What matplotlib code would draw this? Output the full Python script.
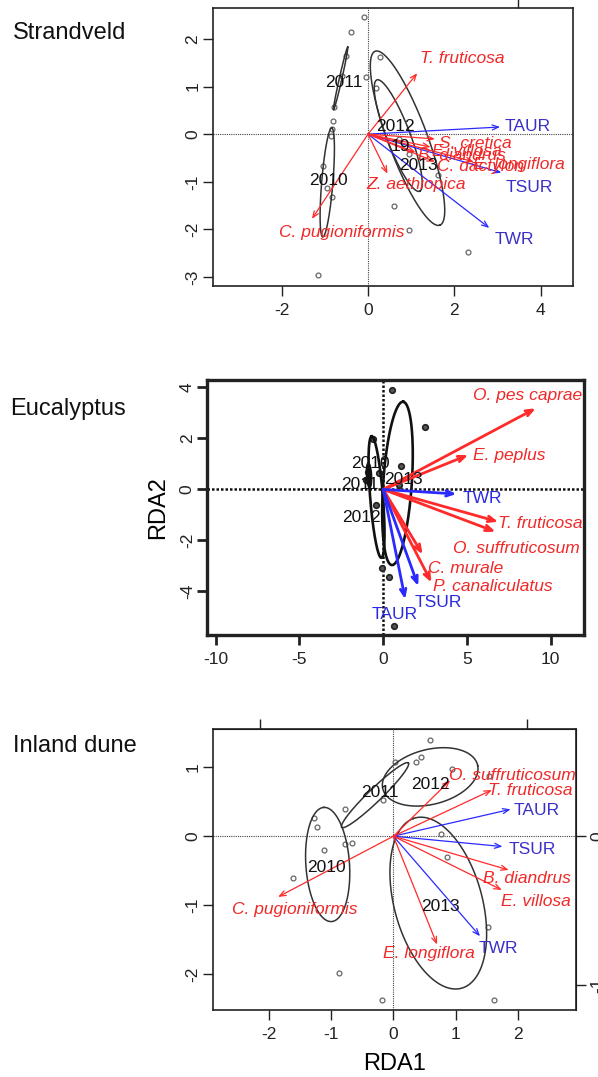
import numpy as np
import matplotlib
matplotlib.use("Agg")
import matplotlib.pyplot as plt

plt.rcParams['font.family'] = ['Liberation Sans', 'DejaVu Sans']

W, H = 598, 1077
RED = '#ff2a2a'
RED_T = '#f02828'
BLUE = '#2a2aff'
BLUE_T = '#3a30c8'

# ---------------- Strandveld ----------------
sv_site_x = [-0.09, -0.39, -0.52, -0.61, -0.79, -0.82, -0.84, -0.86, -1.05, -0.96, -0.83, -1.17,
             -0.05, 0.18, 0.28, 0.72, 0.94, 1.63, 0.61, 0.95, 2.32]
sv_site_y = [2.46, 2.14, 1.65, 1.23, 0.57, 0.28, 0.10, -0.03, -0.66, -1.14, -1.33, -2.96,
             1.20, 0.97, 1.63, -0.11, -0.42, -0.85, -1.50, -2.02, -2.47]
sv_species = ['T. fruticosa', 'C. pugioniformis', 'Z. aethiopica', 'S. cretica', 'E. villosa',
              'B. diandrus', 'C. dactylon', 'E. longiflora']
sv_sp_x = [1.14, -1.30, 0.45, 1.55, 1.45, 1.10, 1.55, 2.45]
sv_sp_y = [1.28, -1.78, -0.83, -0.10, -0.27, -0.38, -0.58, -0.58]
sv_sp_lx = [1.20, -0.61, 1.11, 1.65, 1.48, 1.16, 1.59, 2.44]
sv_sp_ly = [1.58, -2.06, -1.06, -0.20, -0.36, -0.45, -0.68, -0.63]
sv_sp_ha = ['left', 'center', 'center', 'left', 'left', 'left', 'left', 'left']
sv_env = ['TAUR', 'TSUR', 'TWR']
sv_env_x = [3.06, 3.09, 2.81]
sv_env_y = [0.15, -0.81, -1.97]
sv_env_lx = [3.17, 3.19, 2.94]
sv_env_ly = [0.16, -1.13, -2.21]
sv_years = ['2011', '2010', '2012', '2013', '19']
sv_year_x = [-0.57, -0.92, 0.63, 1.17, 0.74]
sv_year_y = [1.09, -0.98, 0.16, -0.66, -0.26]
# ellipses: centre x, centre y, semi-major, semi-minor, angle (deg)
sv_ell = [(-0.635, 1.17, 0.68, 0.03, 76.0),
          (-0.945, -1.015, 1.15, 0.13, 84.8),
          (0.70, -0.03, 1.27, 0.27, -66.9),
          (0.915, -0.085, 1.975, 0.45, -67.5)]

# ---------------- Eucalyptus ----------------
eu_site_x = [0.50, 2.50, -0.60, 1.09, 0.97, -0.24, -0.90, -1.00, -0.44, -0.07, 0.35, 0.64]
eu_site_y = [3.90, 2.46, 1.97, 0.93, 0.19, 0.63, 0.70, 0.35, -0.63, -3.07, -3.43, -5.36]
eu_species = ['O. pes caprae', 'E. peplus', 'T. fruticosa', 'O. suffruticosum', 'C. murale',
              'P. canaliculatus']
eu_sp_x = [9.1, 5.07, 6.86, 6.70, 2.35, 2.88]
eu_sp_y = [3.18, 1.35, -1.27, -1.66, -2.55, -3.65]
eu_sp_lx = [8.6, 5.37, 6.86, 7.95, 2.68, 2.98]
eu_sp_ly = [3.70, 1.32, -1.33, -2.31, -3.10, -3.79]
eu_sp_ha = ['center', 'left', 'left', 'center', 'left', 'left']
eu_env = ['TWR', 'TSUR', 'TAUR']
eu_env_x = [4.37, 2.09, 1.31]
eu_env_y = [-0.18, -3.79, -4.31]
eu_env_lx = [4.73, 3.26, 0.68]
eu_env_ly = [-0.35, -4.43, -4.90]
eu_env_ha = ['left', 'center', 'center']
eu_years = ['2010', '2013', '2011', '2012']
eu_year_x = [-0.79, 1.19, -1.39, -1.30]
eu_year_y = [1.02, 0.39, 0.20, -1.11]
eu_ell = [(0.85, 0.235, 3.22, 0.85, 83.8),
          (-0.40, -0.30, 2.40, 0.38, 97.0),
          (-0.85, 0.55, 0.45, 0.12, 95.0)]

# ---------------- Inland dune ----------------
id_site_x = [0.58, 0.03, 0.36, 0.44, 0.94, 1.54, -0.16, -0.77, -1.27, -1.23, -1.11, -0.78, -0.66,
             -1.61, 0.76, 0.86, 1.51, -0.88, -0.19, 1.62]
id_site_y = [1.40, 1.08, 1.07, 1.15, 0.97, 0.87, 0.52, 0.40, 0.27, 0.14, -0.20, -0.11, -0.10,
             -0.60, 0.03, -0.30, -1.31, -1.99, -2.37, -2.37]
id_species = ['O. suffruticosum', 'T. fruticosa', 'C. pugioniformis', 'B. diandrus', 'E. villosa',
              'E. longiflora']
id_sp_x = [0.91, 1.58, -1.85, 1.85, 1.74, 0.70]
id_sp_y = [0.81, 0.67, -0.88, -0.49, -0.78, -1.57]
id_sp_lx = [1.91, 2.19, -1.59, 2.15, 2.29, 0.57]
id_sp_ly = [0.88, 0.66, -1.07, -0.61, -0.94, -1.70]
id_env = ['TAUR', 'TSUR', 'TWR']
id_env_x = [1.88, 1.75, 1.39]
id_env_y = [0.39, -0.15, -1.45]
id_env_lx = [1.93, 1.85, 1.69]
id_env_ly = [0.37, -0.20, -1.63]
id_env_ha = ['left', 'left', 'center']
id_years = ['2010', '2011', '2012', '2013']
id_year_x = [-1.07, -0.21, 0.59, 0.75]
id_year_y = [-0.45, 0.64, 0.75, -1.02]
id_ell = [(-1.055, -0.41, 0.83, 0.35, 94.5),
          (-0.295, 0.595, 0.71, 0.10, 41.0),
          (0.59, 0.86, 0.78, 0.40, 12.0),
          (0.72, -0.97, 1.29, 0.70, 108.0)]


def px_axes(left, top, right, bottom):
    return fig.add_axes([left / W, 1 - bottom / H, (right - left) / W, (bottom - top) / H])


def ellipse(ax, e, lw, color):
    cx, cy, a, b, ang = e
    t = np.linspace(0, 2 * np.pi, 300)
    th = np.deg2rad(ang)
    x = cx + a * np.cos(t) * np.cos(th) - b * np.sin(t) * np.sin(th)
    y = cy + a * np.cos(t) * np.sin(th) + b * np.sin(t) * np.cos(th)
    ax.plot(x, y, color=color, lw=lw, zorder=3)


def arrow(ax, x, y, color, lw, hl=0.45, hw=0.18):
    ax.annotate('', xy=(x, y), xytext=(0, 0),
                arrowprops=dict(arrowstyle=f'->,head_length={hl},head_width={hw}',
                                color=color, lw=lw, shrinkA=0, shrinkB=0), zorder=4)


def style(ax, spine_lw, tick_lw, xticks, yticks, xlim, ylim):
    ax.set_xlim(*xlim)
    ax.set_ylim(*ylim)
    ax.set_xticks(xticks)
    ax.set_yticks(yticks)
    ax.set_xticklabels([str(v) for v in xticks])
    ax.set_yticklabels([str(v) for v in yticks], rotation=90, va='center')
    for s in ax.spines.values():
        s.set_linewidth(spine_lw)
        s.set_color('#222222')
    ax.tick_params(direction='out', length=7.5, width=tick_lw, labelsize=12.5, colors='#222222',
                   pad=5)
    ax.tick_params(axis='y', pad=1.5)


fig = plt.figure(figsize=(W / 100, H / 100), dpi=100)

# ---- Panel 1 ----
ax1 = px_axes(212.7, 8, 573, 286)
style(ax1, 1.2, 1.0, [-2, 0, 2, 4], [-3, -2, -1, 0, 1, 2], (-3.6, 4.75), (-3.19, 2.65))
ax1.axhline(0, color='#444444', lw=0.8, ls=(0, (1, 1)), zorder=1)
ax1.axvline(0, color='#444444', lw=0.8, ls=(0, (1, 1)), zorder=1)
ax1.plot(sv_site_x, sv_site_y, 'o', mfc='none', mec='#666666', ms=3.5, mew=0.9, zorder=3)
for e in sv_ell:
    ellipse(ax1, e, 1.1, '#333333')
for x, y in zip(sv_env_x, sv_env_y):
    arrow(ax1, x, y, BLUE, 0.9)
for x, y in zip(sv_sp_x, sv_sp_y):
    arrow(ax1, x, y, RED, 0.9)
for s, x, y, ha in zip(sv_species, sv_sp_lx, sv_sp_ly, sv_sp_ha):
    ax1.text(x, y, s, color=RED_T, fontsize=12.5, style='italic', ha=ha, va='center', zorder=5)
for s, x, y in zip(sv_env, sv_env_lx, sv_env_ly):
    ax1.text(x, y, s, color=BLUE_T, fontsize=12.5, ha='left', va='center', zorder=5)
for s, x, y in zip(sv_years, sv_year_x, sv_year_y):
    ax1.text(x, y, s, color='#111111', fontsize=12.5, ha='center', va='center', zorder=5)
sec1 = ax1.secondary_xaxis('top')
sec1.set_xticks([3.47])
sec1.set_xticklabels([''])
sec1.tick_params(direction='out', length=7, width=1.0, colors='#222222')
sec1.spines['top'].set_visible(False)

# ---- Panel 2 ----
ax2 = px_axes(207.3, 380, 584.3, 635)
style(ax2, 2.4, 2.0, [-10, -5, 0, 5, 10], [-4, -2, 0, 2, 4], (-10.5, 12.0), (-5.71, 4.29))
ax2.axhline(0, color='#111111', lw=1.8, ls=(0, (1, 0.8)), zorder=1)
ax2.axvline(0, color='#111111', lw=1.8, ls=(0, (1, 0.8)), zorder=1)
ax2.plot(eu_site_x, eu_site_y, 'o', mfc='#555555', mec='#222222', ms=4, mew=1.2, zorder=3)
for e in eu_ell:
    ellipse(ax2, e, 1.9, '#111111')
for x, y in zip(eu_sp_x, eu_sp_y):
    arrow(ax2, x, y, RED, 2.0, hl=0.5, hw=0.2)
for x, y in zip(eu_env_x, eu_env_y):
    arrow(ax2, x, y, BLUE, 2.0, hl=0.5, hw=0.2)
for s, x, y, ha in zip(eu_species, eu_sp_lx, eu_sp_ly, eu_sp_ha):
    ax2.text(x, y, s, color=RED_T, fontsize=12.5, style='italic', ha=ha, va='center', zorder=5)
for s, x, y, ha in zip(eu_env, eu_env_lx, eu_env_ly, eu_env_ha):
    ax2.text(x, y, s, color='#2a2ae0', fontsize=12.5, ha=ha, va='center', zorder=5)
for s, x, y in zip(eu_years, eu_year_x, eu_year_y):
    ax2.text(x, y, s, color='#111111', fontsize=12.5, ha='center', va='center', zorder=5)
ax2.set_ylabel('RDA2', fontsize=17, labelpad=8)

# ---- Panel 3 ----
ax3 = px_axes(212.7, 729.3, 576, 1010)
style(ax3, 1.2, 1.0, [-2, -1, 0, 1, 2], [-2, -1, 0, 1], (-2.9, 2.93), (-2.52, 1.55))
ax3.axhline(0, color='#444444', lw=0.8, ls=(0, (1, 1)), zorder=1)
ax3.axvline(0, color='#444444', lw=0.8, ls=(0, (1, 1)), zorder=1)
ax3.plot(id_site_x, id_site_y, 'o', mfc='none', mec='#666666', ms=3.5, mew=0.9, zorder=3)
for e in id_ell:
    ellipse(ax3, e, 1.1, '#333333')
for x, y in zip(id_env_x, id_env_y):
    arrow(ax3, x, y, BLUE, 0.9)
for x, y in zip(id_sp_x, id_sp_y):
    arrow(ax3, x, y, RED, 0.9)
for s, x, y in zip(id_species, id_sp_lx, id_sp_ly):
    ax3.text(x, y, s, color=RED_T, fontsize=12.5, style='italic', ha='center', va='center', zorder=5)
for s, x, y, ha in zip(id_env, id_env_lx, id_env_ly, id_env_ha):
    ax3.text(x, y, s, color=BLUE_T, fontsize=12.5, ha=ha, va='center', zorder=5)
for s, x, y in zip(id_years, id_year_x, id_year_y):
    ax3.text(x, y, s, color='#111111', fontsize=12.5, ha='center', va='center', zorder=5)
ax3.set_xlabel('RDA1', fontsize=17, labelpad=8)
sx = 2.141
sec3 = ax3.secondary_xaxis('top', functions=(lambda v: v / sx, lambda v: v * sx))
sec3.set_xticks([-1, 1])
sec3.set_xticklabels(['', ''])
sec3.tick_params(direction='out', length=7, width=1.0, colors='#222222')
sy = 2.16
sec3y = ax3.secondary_yaxis('right', functions=(lambda v: v / sy, lambda v: v * sy))
sec3y.set_yticks([-1, 0])
sec3y.set_yticklabels(['-1', '0'], rotation=90, va='center')
sec3y.tick_params(direction='out', length=7, width=1.0, colors='#222222', labelsize=12.5, pad=3)

# ---- Panel titles ----
fig.text(12.7 / W, 1 - 39.3 / H, 'Strandveld', fontsize=17, ha='left', va='baseline', color='#111111')
fig.text(10 / W, 1 - 415 / H, 'Eucalyptus', fontsize=17, ha='left', va='baseline', color='#111111')
fig.text(12.7 / W, 1 - 751.7 / H, 'Inland dune', fontsize=17, ha='left', va='baseline', color='#111111')

fig.savefig('out.png', dpi=100)
